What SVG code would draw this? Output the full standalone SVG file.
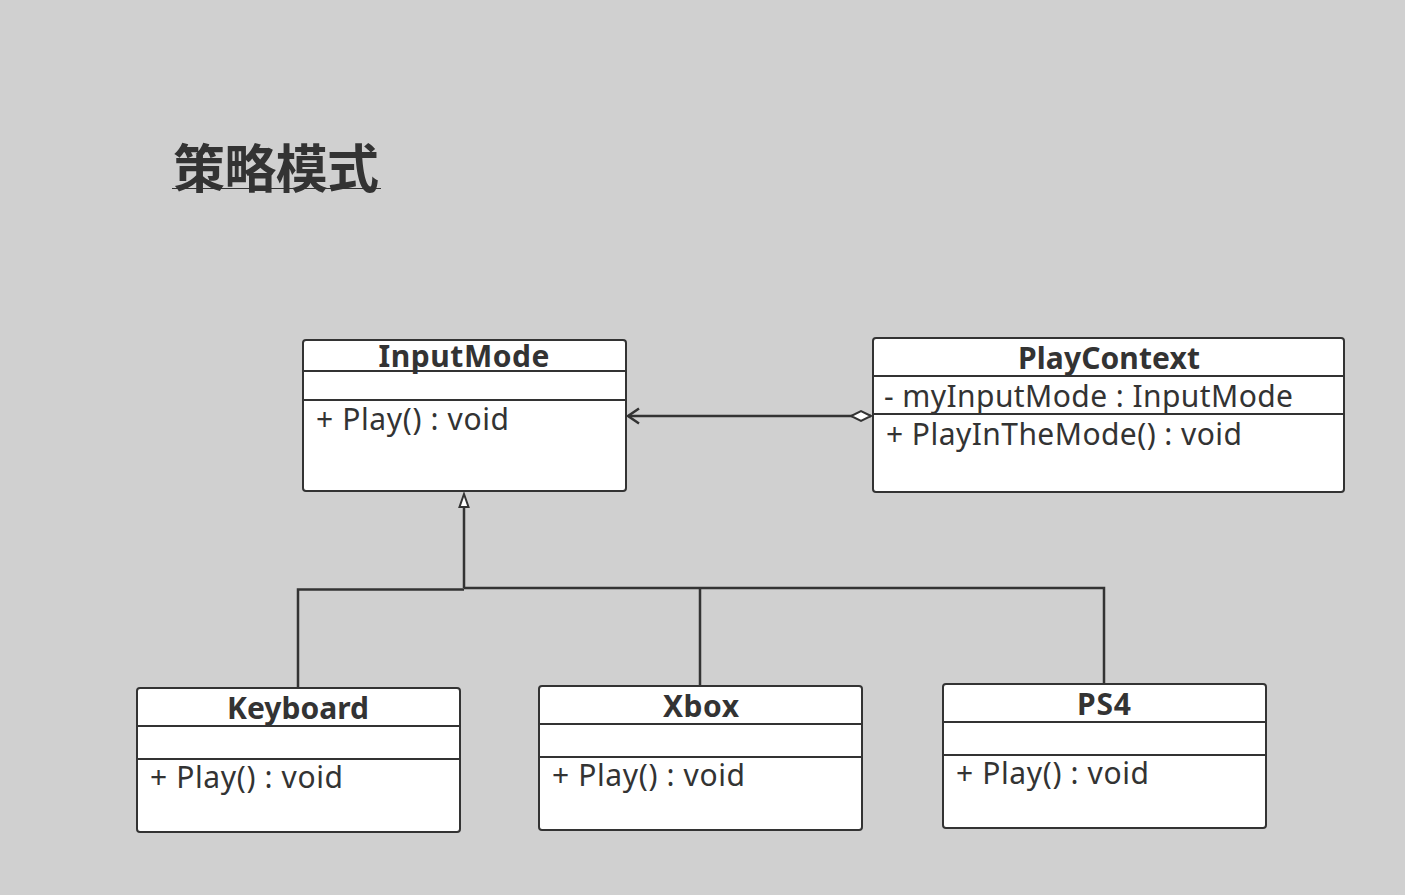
<svg xmlns="http://www.w3.org/2000/svg" width="1405" height="895" viewBox="0 0 1405 895">
<style>
.box{fill:#fff;stroke:#333;stroke-width:2}
.sep{stroke:#333;stroke-width:2}
.title{font-family:"Noto Sans","Liberation Sans",sans-serif;font-weight:bold;font-size:30px;fill:#333;text-anchor:middle}
.mem{font-family:"Noto Sans","Liberation Sans",sans-serif;font-size:30px;fill:#333}
.conn{fill:none;stroke:#333;stroke-width:2.5}
</style>
<rect width="1405" height="895" fill="#d0d0d0"/>
<text x="173" y="188" font-family="'Noto Sans CJK SC',sans-serif" font-weight="bold" font-size="52" fill="#333" textLength="206">策略模式</text>
<line x1="172" y1="188.5" x2="381" y2="188.5" stroke="#333" stroke-width="1"/>

<g id="connectors">
<line class="conn" x1="871" y1="416" x2="628" y2="416"/>
<path d="M639,408.5 L628,416 L639,423.5" fill="none" stroke="#333" stroke-width="2.5"/>
<path d="M871,416 L861,411 L851,416 L861,421 Z" fill="#fff" stroke="#333" stroke-width="2"/>
<path class="conn" d="M464,588 L464,507" stroke-width="3"/>
<path d="M464,494 L468.5,507 L459.5,507 Z" fill="#fff" stroke="#333" stroke-width="2"/>
<path class="conn" d="M298,688 L298,589.5 L464,589.5"/>
<path class="conn" d="M464,588 L1104,588 L1104,684"/>
<path class="conn" d="M700,588 L700,686"/>
</g>

<g id="InputMode">
<rect class="box" x="303" y="340" width="323" height="151" rx="3"/>
<line class="sep" x1="303" y1="371" x2="626" y2="371"/>
<line class="sep" x1="303" y1="400" x2="626" y2="400"/>
<text class="title" x="464" y="367" textLength="171">InputMode</text>
<text class="mem" x="316" y="430" textLength="193">+ Play() : void</text>
</g>

<g id="PlayContext">
<rect class="box" x="873" y="338" width="471" height="154" rx="3"/>
<line class="sep" x1="873" y1="376" x2="1344" y2="376"/>
<line class="sep" x1="873" y1="414" x2="1344" y2="414"/>
<text class="title" x="1109" y="369" textLength="182">PlayContext</text>
<text class="mem" x="884" y="407" textLength="409">- myInputMode : InputMode</text>
<text class="mem" x="886" y="445" textLength="356">+ PlayInTheMode() : void</text>
</g>

<g id="Keyboard">
<rect class="box" x="137" y="688" width="323" height="144" rx="3"/>
<line class="sep" x1="137" y1="726" x2="460" y2="726"/>
<line class="sep" x1="137" y1="759" x2="460" y2="759"/>
<text class="title" x="298" y="719" textLength="142">Keyboard</text>
<text class="mem" x="150" y="788" textLength="193">+ Play() : void</text>
</g>

<g id="Xbox">
<rect class="box" x="539" y="686" width="323" height="144" rx="3"/>
<line class="sep" x1="539" y1="724" x2="862" y2="724"/>
<line class="sep" x1="539" y1="757" x2="862" y2="757"/>
<text class="title" x="701" y="717" textLength="76">Xbox</text>
<text class="mem" x="552" y="786" textLength="193">+ Play() : void</text>
</g>

<g id="PS4">
<rect class="box" x="943" y="684" width="323" height="144" rx="3"/>
<line class="sep" x1="943" y1="722" x2="1266" y2="722"/>
<line class="sep" x1="943" y1="755" x2="1266" y2="755"/>
<text class="title" x="1104" y="715" textLength="54">PS4</text>
<text class="mem" x="956" y="784" textLength="193">+ Play() : void</text>
</g>
</svg>
